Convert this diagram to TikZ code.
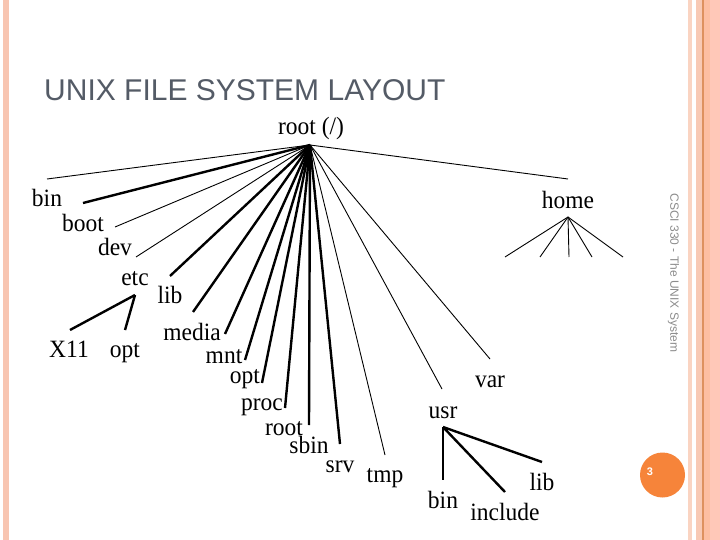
\documentclass[tikz,border=0pt]{standalone}
\usepackage{fontspec}
\setmainfont{Liberation Serif}
\newfontfamily\sansfam{Liberation Sans}
\definecolor{titlegray}{RGB}{84,91,102}
\definecolor{footgray}{RGB}{140,140,140}
\definecolor{circorange}{RGB}{246,132,58}
\definecolor{leftstrip}{RGB}{248,197,177}
\definecolor{paleA}{RGB}{250,212,194}
\definecolor{paleB}{RGB}{248,201,180}
\definecolor{lineorange}{RGB}{222,145,95}
\definecolor{lightorange}{RGB}{253,190,162}
\definecolor{pinksalmon}{RGB}{255,200,184}
\tikzset{
  lbl/.style={anchor=base, inner sep=0pt, yscale=1.06, font=\fontsize{23.5}{28}\selectfont},
  thinln/.style={line width=0.9pt},
  thickln/.style={line width=2.4pt}
}
\begin{document}
\begin{tikzpicture}[x=1pt,y=-1pt]
\useasboundingbox (0,0) rectangle (720,540);
\fill[white] (0,0) rectangle (720,540);
% borders
\fill[leftstrip] (3,0) rectangle (9,540);
\fill[paleA] (688,0) rectangle (692,540);
\fill[paleB] (696,0) rectangle (702,540);
\fill[lineorange] (702,0) rectangle (703.5,540);
\fill[lightorange] (703.5,0) rectangle (710,540);
\fill[pinksalmon] (710,0) rectangle (720,540);
% title
\node[anchor=base west, inner sep=0pt, text=titlegray, font=\sansfam\fontsize{30}{36}\selectfont] (title) at (44,101) {UNIX FILE SYSTEM LAYOUT};
% footer
\node[rotate=-90, inner sep=0pt, text=footgray, font=\sansfam\fontsize{12}{14}\selectfont] (foot) at (673.5,273) {CSCI 330 - The UNIX System};
% page circle
\fill[circorange] (662.5,475) circle (22.5);
\node[inner sep=0pt, text=white, font=\sansfam\bfseries\fontsize{11}{13}\selectfont] (pnum) at (650,472) {3};
% labels
\node[lbl] (rootl) at (311,135) {root (/)};
\node[lbl] (bin) at (47,207) {bin};
\node[lbl] (boot) at (83,231) {boot};
\node[lbl] (dev) at (115,255) {dev};
\node[lbl] (etc) at (135,285) {etc};
\node[lbl] (lib) at (170,303) {lib};
\node[lbl] (xeleven) at (69,357) {X11};
\node[lbl] (eopt) at (125,357) {opt};
\node[lbl] (media) at (192,340) {media};
\node[lbl] (mnt) at (224,363) {mnt};
\node[lbl] (opt) at (245,383) {opt};
\node[lbl] (proc) at (262,410) {proc};
\node[lbl] (rootd) at (284,435) {root};
\node[lbl] (sbin) at (309,453) {sbin};
\node[lbl] (srv) at (340,472) {srv};
\node[lbl] (tmp) at (385,482) {tmp};
\node[lbl] (usr) at (443,418) {usr};
\node[lbl] (var) at (490,387) {var};
\node[lbl] (ubin) at (443,508) {bin};
\node[lbl] (include) at (505,520) {include};
\node[lbl] (ulib) at (542,490) {lib};
\node[lbl] (home) at (568,208) {home};
% hubs and ends
\coordinate (R) at (310,145);
\coordinate (e1) at (47,179);
\coordinate (e2) at (83,203);
\coordinate (e3) at (115,227);
\coordinate (e4) at (136,257);
\coordinate (e5) at (170,276);
\coordinate (e6) at (193,312);
\coordinate (e7) at (225,334);
\coordinate (e8) at (245,360);
\coordinate (e9) at (262,383);
\coordinate (e10) at (285,408);
\coordinate (e11) at (309,425);
\coordinate (e12) at (340,444);
\coordinate (e13) at (385,455);
\coordinate (e14) at (442,389);
\coordinate (e15) at (490,359);
\coordinate (e16) at (568,179);
\draw[thinln] (R) -- (e1);
\draw[thickln] (R) -- (e2);
\draw[thinln] (R) -- (e3);
\draw[thinln] (R) -- (e4);
\draw[thickln] (R) -- (e5);
\draw[thickln] (R) -- (e6);
\draw[thickln] (R) -- (e7);
\draw[thickln] (R) -- (e8);
\draw[thickln] (R) -- (e9);
\draw[thickln] (R) -- (e10);
\draw[thickln] (R) -- (e11);
\draw[thickln] (R) -- (e12);
\draw[thinln] (R) -- (e13);
\draw[thinln] (R) -- (e14);
\draw[thinln] (R) -- (e15);
\draw[thinln] (R) -- (e16);
% etc children
\coordinate (EH) at (135,295);
\coordinate (ex) at (70,330);
\coordinate (eo) at (125,330);
\draw[thickln] (EH) -- (ex);
\draw[thickln] (EH) -- (eo);
% home children
\coordinate (HH) at (568,217);
\foreach \xx/\nm in {505/h1,540/h2,569/h3,592/h4,623/h5}{
  \coordinate (\nm) at (\xx,257);
  \draw[thinln] (HH) -- (\nm);
}
% usr children
\coordinate (UH) at (443,427);
\coordinate (ub) at (443,480);
\coordinate (ui) at (505,492);
\coordinate (ul) at (542,462);
\draw[thickln] (UH) -- (ub);
\draw[thickln] (UH) -- (ui);
\draw[thickln] (UH) -- (ul);
\end{tikzpicture}
\end{document}
